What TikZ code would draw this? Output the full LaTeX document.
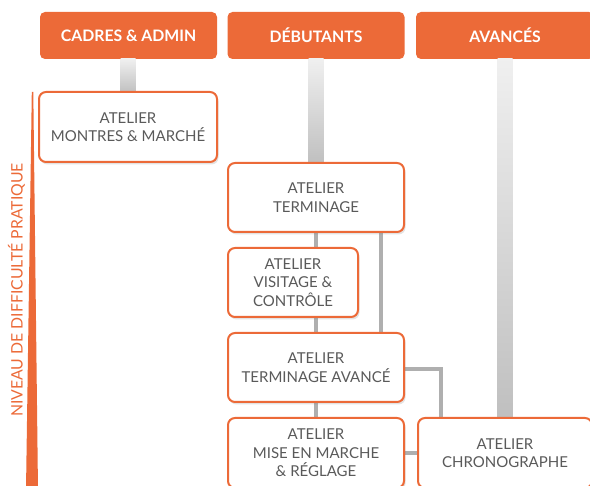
\documentclass[tikz,border=0pt]{standalone}
\usepackage{fontspec}
\setmainfont{Lato}
\usetikzlibrary{shadows,calc}
\definecolor{ora}{RGB}{236,106,56}
\definecolor{txt}{RGB}{90,90,90}
\definecolor{conn}{RGB}{175,175,175}
\begin{document}
\begin{tikzpicture}[x=1pt,y=1pt,
  head/.style={rectangle, rounded corners=5pt, fill=ora, text=white, font=\fontsize{15.8}{18}\selectfont\bfseries, minimum width=177pt, minimum height=47pt, inner sep=0pt},
  atelier/.style={rectangle, rounded corners=7pt, draw=ora, line width=2pt, fill=white, text=txt, align=center, font=\fontsize{15}{18.5}\selectfont, inner sep=0pt,
    drop shadow={opacity=0.22, shadow xshift=1.5pt, shadow yshift=-2.5pt}},
  pipe/.style={top color=gray!12, bottom color=gray!50, draw=none},
  thin/.style={draw=conn, line width=4pt}
]
\useasboundingbox (0,0) rectangle (590,-486);
\clip (0,0) rectangle (590,-486);
% headers
\node[head] (h1) at (128.5,-35.5) {CADRES \& ADMIN};
\node[head] (h2) at (316,-35.5) {DÉBUTANTS};
\node[head, minimum width=178pt] (h3) at (505,-35.5) {AVANCÉS};
% pipes
\shade[pipe] (120.5,-59) rectangle (135.5,-93);
\shade[pipe] (308.5,-59) rectangle (323.5,-164);
\shade[pipe] (497.5,-59) rectangle (512.5,-419);
% thin connectors
\draw[thin] (316,-232) -- (316,-418);
\draw[thin] (381,-232) -- (381,-333);
\coordinate (bend) at (441,-369);
\draw[thin] (404,-369) -- (bend) -- (441,-418);
\draw[thin] (404,-453) -- (418,-453);
% ateliers
\node[atelier, minimum width=178pt, minimum height=70pt] (mm) at (128,-127) {ATELIER\\MONTRES \& MARCHÉ};
\node[atelier, minimum width=176pt, minimum height=69pt] (term) at (316,-197.5) {ATELIER\\TERMINAGE};
\node[atelier, minimum width=130pt, minimum height=69pt] (vis) at (293,-282.5) {ATELIER\\VISITAGE \&\\CONTRÔLE};
\node[atelier, minimum width=176pt, minimum height=69pt] (tav) at (316,-367.5) {ATELIER\\TERMINAGE AVANCÉ};
\node[atelier, minimum width=176pt, minimum height=70pt] (mise) at (316,-453) {ATELIER\\MISE EN MARCHE\\\& RÉGLAGE};
\node[atelier, minimum width=174pt, minimum height=70pt] (chrono) at (505,-453) {ATELIER\\CHRONOGRAPHE};
% axis
\fill[ora] (31.8,-92) -- (33.3,-92) -- (38,-490) -- (26,-490) -- cycle;
\node[rotate=90, text=ora, font=\fontsize{15.8}{18}\selectfont, inner sep=0pt] (axis) at (16.5,-290) {NIVEAU DE DIFFICULTÉ PRATIQUE};
\end{tikzpicture}
\end{document}
